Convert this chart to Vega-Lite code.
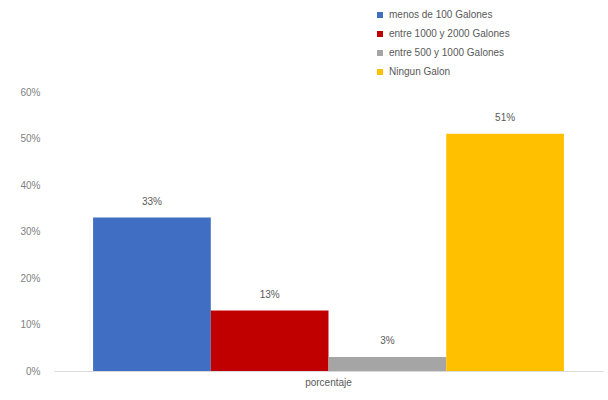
{
  "$schema": "https://vega.github.io/schema/vega-lite/v6.json",
  "width": 549,
  "height": 279,
  "autosize": {"type": "none"},
  "padding": {"left": 54, "top": 92, "right": 5, "bottom": 29},
  "background": "white",
  "config": {
    "font": "Liberation Sans",
    "view": {"stroke": null}
  },
  "data": {
    "values": [
      {"grupo": "porcentaje", "serie": "menos de 100 Galones", "valor": 0.33},
      {"grupo": "porcentaje", "serie": "entre 1000 y 2000 Galones", "valor": 0.13},
      {"grupo": "porcentaje", "serie": "entre 500 y 1000 Galones", "valor": 0.03},
      {"grupo": "porcentaje", "serie": "Ningun Galon", "valor": 0.51}
    ]
  },
  "encoding": {
    "x": {
      "field": "grupo",
      "type": "nominal",
      "scale": {"paddingInner": 0, "paddingOuter": 0.083},
      "axis": {
        "title": null,
        "labelAngle": 0,
        "labelColor": "#595959",
        "labelFontSize": 10,
        "labelPadding": 6,
        "ticks": false,
        "domainColor": "#d9d9d9",
        "domainWidth": 1
      }
    },
    "xOffset": {
      "field": "serie",
      "type": "nominal",
      "sort": ["menos de 100 Galones", "entre 1000 y 2000 Galones", "entre 500 y 1000 Galones", "Ningun Galon"],
      "scale": {"paddingInner": 0, "paddingOuter": 0}
    },
    "y": {
      "field": "valor",
      "type": "quantitative",
      "scale": {"domain": [0, 0.6]},
      "axis": {
        "title": null,
        "format": ".0%",
        "values": [0, 0.1, 0.2, 0.3, 0.4, 0.5, 0.6],
        "grid": false,
        "ticks": false,
        "domain": false,
        "labelColor": "#7f7f7f",
        "labelFontSize": 10,
        "labelPadding": 14
      }
    }
  },
  "layer": [
    {
      "mark": {"type": "bar"},
      "encoding": {
        "color": {
          "field": "serie",
          "type": "nominal",
          "scale": {
            "domain": ["menos de 100 Galones", "entre 1000 y 2000 Galones", "entre 500 y 1000 Galones", "Ningun Galon"],
            "range": ["#3f6ec3", "#c00000", "#a5a5a5", "#ffc000"]
          },
          "legend": {
            "title": null,
            "orient": "none",
            "legendX": 321,
            "legendY": -82,
            "symbolType": "square",
            "symbolSize": 36,
            "symbolStrokeWidth": 0,
            "labelFontSize": 10,
            "labelColor": "#595959",
            "labelOffset": 4,
            "rowPadding": 9
          }
        }
      }
    },
    {
      "mark": {"type": "text", "dy": -16, "fontSize": 10, "color": "#595959"},
      "encoding": {
        "text": {"field": "valor", "type": "quantitative", "format": ".0%"}
      }
    }
  ]
}
